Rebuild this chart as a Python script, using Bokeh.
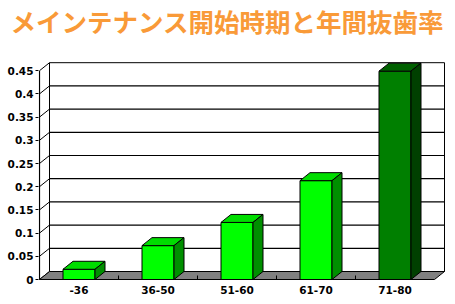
from bokeh.plotting import figure
from bokeh.models import Range1d, FixedTicker, Title
from bokeh.embed import file_html
from bokeh.resources import INLINE

# ---- data ----
categories = ["-36", "36-50", "51-60", "61-70", "71-80"]
values = [0.022, 0.073, 0.123, 0.213, 0.449]
front_colors = ["#00FF00", "#00FF00", "#00FF00", "#00FF00", "#007F00"]
top_colors = ["#00DD00", "#00DD00", "#00DD00", "#00DD00", "#006000"]
side_colors = ["#008F00", "#008F00", "#008F00", "#008F00", "#004000"]
y_ticks = [0, 0.05, 0.1, 0.15, 0.2, 0.25, 0.3, 0.35, 0.4, 0.45]
y_labels = ["0", "0.05", "0.1", "0.15", "0.2", "0.25", "0.3", "0.35", "0.4", "0.45"]
title_text = "メインテナンス開始時期と年間抜歯率"

# ---- geometry (px per unit) ----
PX_X = 79.0
PX_Y = 464.0
DX = 10.0 / PX_X
DY = 8.0 / PX_Y
BW = 32.0 / PX_X
N = len(categories)
YMAX = y_ticks[-1]
FRAME_LEFT = 38
FRAME_BOTTOM = 281

p = figure(width=455, height=304, output_backend="svg", toolbar_location=None,
           x_range=Range1d(-1.0 / PX_X, 407.0 / PX_X),
           y_range=Range1d(-2.0 / PX_Y, 219.0 / PX_Y),
           min_border_left=FRAME_LEFT, min_border_right=9, min_border_top=60,
           min_border_bottom=304 - FRAME_BOTTOM)
p.outline_line_color = None
p.xgrid.visible = False
p.ygrid.visible = False
p.background_fill_color = "white"
p.border_fill_color = "white"

# spacer between frame and title, then the title itself (outermost)
p.add_layout(Title(text=" ", text_font_size="1px", standoff=24), "above")
p.title.text = title_text
p.title.align = "left"
p.title.offset = 10 - FRAME_LEFT
p.title.standoff = -10
p.title.text_font = "Noto Sans CJK JP"
p.title.text_font_size = "25.5px"
p.title.text_font_style = "bold"
p.title.text_color = "#F99A38"

# back wall
p.quad(left=[DX], right=[N + DX], bottom=[DY], top=[YMAX + DY],
       fill_color="white", line_color="black", line_width=1)
inner = [t for t in y_ticks if 0 < t < YMAX]
p.segment(x0=[DX] * len(inner), y0=[t + DY for t in inner],
          x1=[N + DX] * len(inner), y1=[t + DY for t in inner],
          line_color="black", line_width=1.2)
# left-wall slanted ticks
p.segment(x0=[0] * len(y_ticks), y0=y_ticks, x1=[DX] * len(y_ticks),
          y1=[t + DY for t in y_ticks], line_color="black", line_width=1)
# floor
p.patch(x=[0, N, N + DX, DX], y=[0, 0, DY, DY], fill_color="#808080",
        line_color="black", line_width=1)
# category boundary ticks on floor front edge
bnds = list(range(1, N))
p.segment(x0=bnds, y0=[0] * len(bnds), x1=bnds, y1=[4.0 / PX_Y] * len(bnds),
          line_color="black", line_width=1)
# front axis line
p.segment(x0=[0], y0=[0], x1=[0], y1=[YMAX], line_color="black", line_width=1.2)

# bars
cx = [i + 0.5 for i in range(N)]
lefts = [c - BW / 2 for c in cx]
rights = [c + BW / 2 for c in cx]
p.quad(left=lefts, right=rights, bottom=[0] * N, top=values,
       fill_color=front_colors, line_color="black", line_width=1)
tops_x = [[l, r, r + DX, l + DX] for l, r in zip(lefts, rights)]
tops_y = [[v, v, v + DY, v + DY] for v in values]
p.patches(xs=tops_x, ys=tops_y, fill_color=top_colors, line_color="black", line_width=1)
sides_x = [[r, r + DX, r + DX, r] for r in rights]
sides_y = [[0, DY, v + DY, v] for v in values]
p.patches(xs=sides_x, ys=sides_y, fill_color=side_colors, line_color="black", line_width=1)

# axes
p.yaxis.ticker = FixedTicker(ticks=y_ticks)
p.yaxis.major_label_overrides = {t: l for t, l in zip(y_ticks, y_labels)}
p.yaxis.axis_line_color = None
p.yaxis.major_tick_out = 3
p.yaxis.major_tick_in = 0
p.yaxis.major_tick_line_color = "black"
p.yaxis.minor_tick_line_color = None
p.yaxis.minor_tick_out = 0
p.yaxis.major_label_standoff = 2
p.yaxis.major_label_text_font = "DejaVu Sans"
p.yaxis.major_label_text_font_style = "bold"
p.yaxis.major_label_text_font_size = "10.5px"
p.yaxis.major_label_text_color = "black"

p.xaxis.ticker = FixedTicker(ticks=cx)
p.xaxis.major_label_overrides = {c: l for c, l in zip(cx, categories)}
p.xaxis.axis_line_color = None
p.xaxis.major_tick_line_color = None
p.xaxis.minor_tick_line_color = None
p.xaxis.major_tick_out = 0
p.xaxis.major_tick_in = 0
p.xaxis.minor_tick_out = 0
p.xaxis.major_label_standoff = 4
p.xaxis.major_label_text_font = "DejaVu Sans"
p.xaxis.major_label_text_font_style = "bold"
p.xaxis.major_label_text_font_size = "10.5px"
p.xaxis.major_label_text_color = "black"

open("out.html", "w").write(file_html(p, INLINE))
